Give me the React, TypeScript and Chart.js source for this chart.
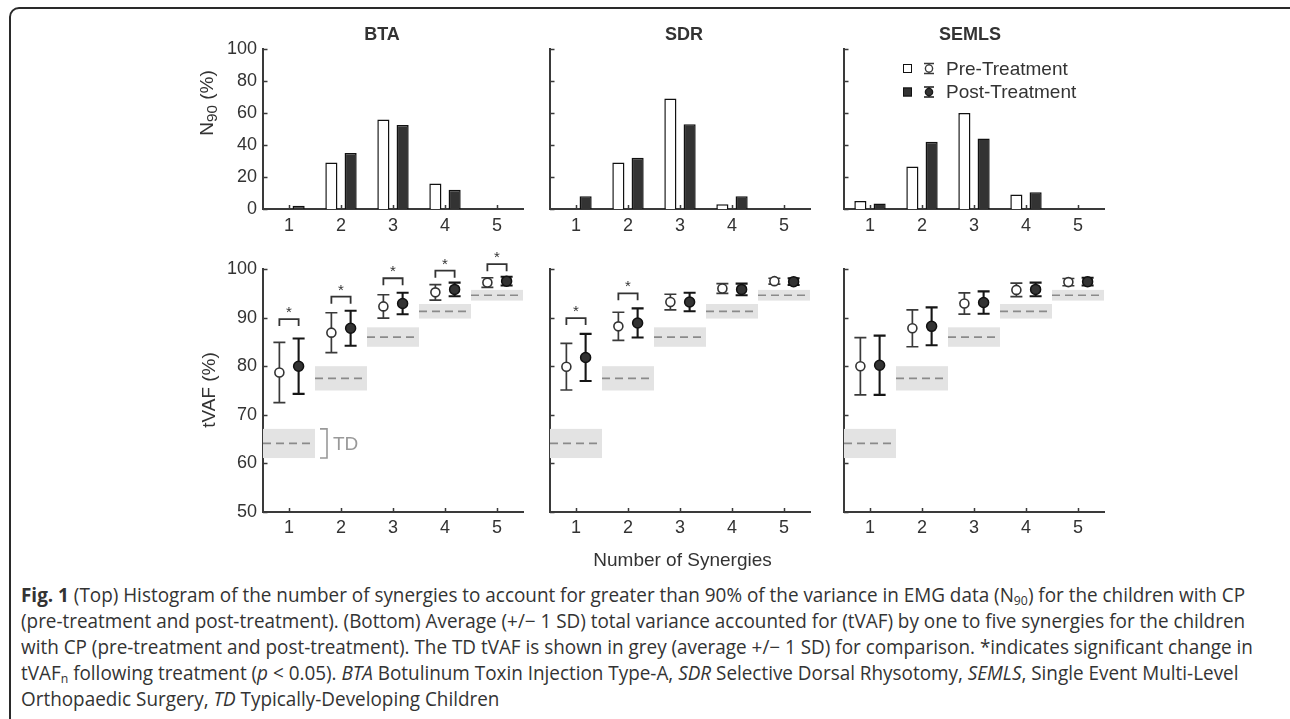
import React, { useEffect, useLayoutEffect, useRef, useState } from 'react';
import { Chart, registerables } from 'chart.js';

Chart.register(...registerables);

// ---------------- DATA ----------------
const categories = ['1', '2', '3', '4', '5'];
const xTicks = [1, 2, 3, 4, 5];
const topYTicks = [0, 20, 40, 60, 80, 100];
const bottomYTicks = [50, 60, 70, 80, 90, 100];
const panelNames = ['BTA', 'SDR', 'SEMLS'];
const legendLabels = ['Pre-Treatment', 'Post-Treatment'];

// N90 (%) histograms
const btaN90Pre = [0, 29, 56, 16, 0];
const btaN90Post = [2, 35, 52.5, 12, 0];
const sdrN90Pre = [0, 29, 69, 3, 0];
const sdrN90Post = [8, 32, 53, 8, 0];
const semlsN90Pre = [5, 26.5, 60, 9, 0];
const semlsN90Post = [3.5, 42, 44, 10.5, 0];

// tVAF (%) mean and SD
const btaPreMean = [78.7, 86.9, 92.3, 95.2, 97.2];
const btaPreSd = [6.2, 4.1, 2.4, 1.6, 1.0];
const btaPostMean = [80.0, 87.8, 92.9, 95.8, 97.5];
const btaPostSd = [5.7, 3.6, 2.2, 1.4, 0.9];

const sdrPreMean = [79.9, 88.2, 93.2, 96.0, 97.5];
const sdrPreSd = [4.8, 2.9, 1.6, 1.0, 0.6];
const sdrPostMean = [81.8, 88.9, 93.2, 95.8, 97.4];
const sdrPostSd = [4.85, 3.0, 1.9, 1.2, 0.7];

const semlsPreMean = [80.0, 87.8, 92.9, 95.7, 97.3];
const semlsPreSd = [5.9, 3.8, 2.2, 1.4, 0.75];
const semlsPostMean = [80.2, 88.2, 93.1, 95.8, 97.4];
const semlsPostSd = [6.1, 3.9, 2.3, 1.4, 0.8];

// Typically developing reference (mean +/- 1 SD)
const tdMean = [64.1, 77.5, 86.0, 91.3, 94.6];
const tdSd = [3.0, 2.5, 2.0, 1.5, 1.1];

// significance bracket levels (tVAF %), null = no significant change
const btaSig = [89.7, 94.3, 98.1, 99.65, 101.0];
const sdrSig = [89.9, 95.0, null, null, null];
const semlsSig = [null, null, null, null, null];

// ---------------- STYLE / LAYOUT ----------------
const FONT = '"Liberation Sans", Arial, sans-serif';
const CAP_FONT = '"Open Sans", "Noto Sans", sans-serif';
const TXT = '#333333';
const AXIS = '#3a3a3a';
const PRE_OFF = -0.185;
const POST_OFF = 0.185;
const CAP = 6;

const PANEL_X = [263, 550, 844];
const PLOT_W = 260;
const TOP_Y = 49;
const TOP_H = 160;
const BOT_Y = 269;
const BOT_H = 243;
const PAD_L = 80;
const PAD_R = 20;
const YW = 60;
const XH = 30;

const topPanels = [
  { pre: btaN90Pre, post: btaN90Post },
  { pre: sdrN90Pre, post: sdrN90Post },
  { pre: semlsN90Pre, post: semlsN90Post },
];
const bottomPanels = [
  { preMean: btaPreMean, preSd: btaPreSd, postMean: btaPostMean, postSd: btaPostSd, sig: btaSig },
  { preMean: sdrPreMean, preSd: sdrPreSd, postMean: sdrPostMean, postSd: sdrPostSd, sig: sdrSig },
  { preMean: semlsPreMean, preSd: semlsPreSd, postMean: semlsPostMean, postSd: semlsPostSd, sig: semlsSig },
];

const inwardTicks = {
  id: 'inwardTicks',
  afterDatasetsDraw(chart: any) {
    const { ctx, chartArea, scales } = chart;
    const xs = scales.x;
    const ys = scales.y;
    ctx.save();
    ctx.strokeStyle = AXIS;
    ctx.lineWidth = 1.5;
    ctx.beginPath();
    xs.ticks.forEach((_t: any, i: number) => {
      const px = Math.round(xs.getPixelForTick(i)) + 0.5;
      ctx.moveTo(px, chartArea.bottom);
      ctx.lineTo(px, chartArea.bottom - 4);
    });
    ys.ticks.forEach((_t: any, i: number) => {
      const py = Math.round(ys.getPixelForTick(i)) + 0.5;
      ctx.moveTo(chartArea.left, py);
      ctx.lineTo(chartArea.left + 4.5, py);
    });
    ctx.stroke();
    ctx.restore();
  },
};

function yScale(min: number, max: number, ticks: number[], showLabels: boolean) {
  return {
    min,
    max,
    afterBuildTicks: (s: any) => {
      s.ticks = ticks.map((v) => ({ value: v }));
    },
    ticks: { display: showLabels, padding: 6, color: TXT, font: { family: FONT, size: 18 } },
    grid: { display: false, drawTicks: false },
    border: { display: true, color: AXIS, width: 2 },
    afterFit: (s: any) => {
      s.width = YW;
    },
  };
}

function topConfig(idx: number) {
  const p = topPanels[idx];
  const plugins: any[] = [inwardTicks];
  if (idx === 2) {
    plugins.push({
      id: 'legendBox',
      afterDraw(chart: any) {
        const { ctx, chartArea } = chart;
        const sqX = chartArea.left + 59;
        const cx = chartArea.left + 85;
        const tx = chartArea.left + 102;
        const rows = [chartArea.top + 19.5, chartArea.top + 43];
        ctx.save();
        rows.forEach((cy, r) => {
          ctx.lineWidth = 1;
          ctx.strokeStyle = '#111';
          ctx.fillStyle = r === 0 ? '#ffffff' : '#333333';
          ctx.fillRect(sqX, cy - 4.5, 9, 9);
          ctx.strokeRect(sqX + 0.5, cy - 4, 8, 8);
          ctx.lineWidth = 1.4;
          ctx.strokeStyle = r === 0 ? '#3a3a3a' : '#1a1a1a';
          ctx.beginPath();
          ctx.moveTo(cx, cy - 5);
          ctx.lineTo(cx, cy + 5);
          ctx.moveTo(cx - 5, cy - 5);
          ctx.lineTo(cx + 5, cy - 5);
          ctx.moveTo(cx - 5, cy + 5);
          ctx.lineTo(cx + 5, cy + 5);
          ctx.stroke();
          ctx.beginPath();
          ctx.arc(cx, cy, 3.6, 0, Math.PI * 2);
          ctx.fillStyle = r === 0 ? '#ffffff' : '#333333';
          ctx.fill();
          ctx.stroke();
          ctx.fillStyle = TXT;
          ctx.font = `19px ${FONT}`;
          ctx.textAlign = 'left';
          ctx.textBaseline = 'middle';
          ctx.fillText(legendLabels[r], tx, cy + 1);
        });
        ctx.restore();
      },
    });
  }
  return {
    type: 'bar',
    data: {
      labels: categories,
      datasets: [
        {
          label: legendLabels[0],
          data: p.pre,
          backgroundColor: '#ffffff',
          borderColor: '#111111',
          borderWidth: 1.5,
          categoryPercentage: 0.74,
          barPercentage: 0.63,
        },
        {
          label: legendLabels[1],
          data: p.post,
          backgroundColor: '#333333',
          borderColor: '#111111',
          borderWidth: 1.5,
          categoryPercentage: 0.74,
          barPercentage: 0.63,
        },
      ],
    },
    options: {
      responsive: false,
      animation: false,
      devicePixelRatio: 1,
      events: [],
      layout: { padding: { left: PAD_L - YW, right: PAD_R, top: TOP_Y, bottom: 50 - XH } },
      plugins: { legend: { display: false }, tooltip: { enabled: false }, title: { display: false } },
      scales: {
        x: {
          type: 'category',
          offset: true,
          ticks: { padding: 6, color: TXT, font: { family: FONT, size: 18 } },
          grid: { display: false, drawTicks: false },
          border: { display: true, color: AXIS, width: 2 },
          afterFit: (s: any) => {
            s.height = XH;
          },
        },
        y: yScale(0, 100, topYTicks, idx === 0),
      },
    },
    plugins,
  };
}

function bottomConfig(idx: number) {
  const p = bottomPanels[idx];
  const tdLine = tdMean.flatMap((m, i) => [
    { x: xTicks[i] - 0.5, y: m },
    { x: xTicks[i] + 0.5, y: m },
    { x: xTicks[i] + 0.5, y: null },
  ]);
  const plugins: any[] = [
    {
      id: 'bandsAndErrors',
      beforeDatasetsDraw(chart: any) {
        const { ctx, scales } = chart;
        const xs = scales.x;
        const ys = scales.y;
        ctx.save();
        ctx.fillStyle = '#e3e3e3';
        tdMean.forEach((m, i) => {
          const x0 = xs.getPixelForValue(xTicks[i] - 0.5);
          const x1 = xs.getPixelForValue(xTicks[i] + 0.5);
          const y0 = ys.getPixelForValue(m + tdSd[i]);
          const y1 = ys.getPixelForValue(m - tdSd[i]);
          ctx.fillRect(x0, y0, x1 - x0, y1 - y0);
        });
        const bars = [
          { means: p.preMean, sds: p.preSd, off: PRE_OFF, color: '#3a3a3a', w: 1.7 },
          { means: p.postMean, sds: p.postSd, off: POST_OFF, color: '#151515', w: 2.1 },
        ];
        bars.forEach((b) => {
          ctx.strokeStyle = b.color;
          ctx.lineWidth = b.w;
          b.means.forEach((m, i) => {
            const px = xs.getPixelForValue(xTicks[i] + b.off);
            const yt = ys.getPixelForValue(m + b.sds[i]);
            const yb = ys.getPixelForValue(m - b.sds[i]);
            ctx.beginPath();
            ctx.moveTo(px, yt);
            ctx.lineTo(px, yb);
            ctx.moveTo(px - CAP, yt);
            ctx.lineTo(px + CAP, yt);
            ctx.moveTo(px - CAP, yb);
            ctx.lineTo(px + CAP, yb);
            ctx.stroke();
          });
        });
        ctx.restore();
      },
      afterDatasetsDraw(chart: any) {
        const { ctx, scales } = chart;
        const xs = scales.x;
        const ys = scales.y;
        ctx.save();
        ctx.strokeStyle = '#333333';
        ctx.fillStyle = '#333333';
        ctx.lineWidth = 1.8;
        ctx.font = `15px ${FONT}`;
        ctx.textAlign = 'center';
        ctx.textBaseline = 'middle';
        p.sig.forEach((lvl, i) => {
          if (lvl === null) return;
          const x0 = xs.getPixelForValue(xTicks[i] + PRE_OFF);
          const x1 = xs.getPixelForValue(xTicks[i] + POST_OFF);
          const py = ys.getPixelForValue(lvl);
          ctx.beginPath();
          ctx.moveTo(x0, py + 7);
          ctx.lineTo(x0, py);
          ctx.lineTo(x1, py);
          ctx.lineTo(x1, py + 7);
          ctx.stroke();
          ctx.fillText('*', (x0 + x1) / 2, py - 6);
        });
        if (idx === 0) {
          const bx0 = xs.getPixelForValue(xTicks[0] + 0.5) + 5;
          const bx1 = bx0 + 7;
          const yt = ys.getPixelForValue(tdMean[0] + tdSd[0]);
          const yb = ys.getPixelForValue(tdMean[0] - tdSd[0]);
          ctx.strokeStyle = '#999999';
          ctx.lineWidth = 1.6;
          ctx.beginPath();
          ctx.moveTo(bx0, yt);
          ctx.lineTo(bx1, yt);
          ctx.lineTo(bx1, yb);
          ctx.lineTo(bx0, yb);
          ctx.stroke();
          ctx.fillStyle = '#999999';
          ctx.font = `19px ${FONT}`;
          ctx.textAlign = 'left';
          ctx.fillText('TD', bx1 + 6, ys.getPixelForValue(tdMean[0]) + 1);
        }
        ctx.restore();
      },
    },
    inwardTicks,
  ];
  return {
    type: 'scatter',
    data: {
      datasets: [
        {
          label: legendLabels[1],
          data: p.postMean.map((m, i) => ({ x: xTicks[i] + POST_OFF, y: m })),
          pointRadius: 5,
          pointBackgroundColor: '#333333',
          pointBorderColor: '#111111',
          pointBorderWidth: 1.5,
        },
        {
          label: legendLabels[0],
          data: p.preMean.map((m, i) => ({ x: xTicks[i] + PRE_OFF, y: m })),
          pointRadius: 4.5,
          pointBackgroundColor: '#ffffff',
          pointBorderColor: '#333333',
          pointBorderWidth: 1.6,
        },
        {
          label: 'TD',
          data: tdLine,
          showLine: true,
          spanGaps: false,
          pointRadius: 0,
          borderColor: '#8a8a8a',
          borderWidth: 1.7,
          borderDash: [8, 5],
        },
      ],
    },
    options: {
      responsive: false,
      animation: false,
      devicePixelRatio: 1,
      events: [],
      layout: { padding: { left: PAD_L - YW, right: PAD_R, top: 40, bottom: 40 - XH } },
      plugins: { legend: { display: false }, tooltip: { enabled: false }, title: { display: false } },
      scales: {
        x: {
          type: 'linear',
          min: 0.5,
          max: 5.5,
          afterBuildTicks: (s: any) => {
            s.ticks = xTicks.map((v) => ({ value: v }));
          },
          ticks: { padding: 5, color: TXT, font: { family: FONT, size: 18 } },
          grid: { display: false, drawTicks: false },
          border: { display: true, color: AXIS, width: 2 },
          afterFit: (s: any) => {
            s.height = XH;
          },
        },
        y: yScale(50, 100, bottomYTicks, idx === 0),
      },
    },
    plugins,
  };
}

function ChartBox({ left, top, width, height, make }: any) {
  const ref = useRef<HTMLCanvasElement>(null);
  useEffect(() => {
    const chart = new Chart(ref.current as HTMLCanvasElement, make() as any);
    return () => chart.destroy();
  }, []);
  return (
    <canvas
      ref={ref}
      width={width}
      height={height}
      style={{ position: 'absolute', left, top, width, height }}
    />
  );
}

function Label({ x, y, size, children, bold = false, rotate = 0, color = TXT }: any) {
  return (
    <div
      style={{
        position: 'absolute',
        left: x,
        top: y,
        transform: `translate(-50%, -50%) rotate(${rotate}deg)`,
        fontFamily: FONT,
        fontSize: size,
        fontWeight: bold ? 700 : 400,
        color,
        whiteSpace: 'nowrap',
        lineHeight: 1,
      }}
    >
      {children}
    </div>
  );
}

const CAPTION_W = 1224;

function Caption() {
  const ref = useRef<HTMLSpanElement>(null);
  const [scale, setScale] = useState(1);
  useLayoutEffect(() => {
    if (ref.current) {
      const w = ref.current.getBoundingClientRect().width;
      if (w > 0) setScale(CAPTION_W / w);
    }
  }, []);
  const lines = [
    <span ref={ref}>
      <b>Fig. 1</b> (Top) Histogram of the number of synergies to account for greater than 90% of the variance in EMG data (N
      <sub style={{ fontSize: '0.65em', verticalAlign: '-0.2em' }}>90</sub>) for the children with CP
    </span>,
    <span>
      (pre-treatment and post-treatment). (Bottom) Average (+/− 1 SD) total variance accounted for (tVAF) by one to five synergies for the children
    </span>,
    <span>
      with CP (pre-treatment and post-treatment). The TD tVAF is shown in grey (average +/− 1 SD) for comparison. *indicates significant change in
    </span>,
    <span>
      tVAF<sub style={{ fontSize: '0.65em', verticalAlign: '-0.2em' }}>n</sub> following treatment (<i>p</i> &lt; 0.05).{' '}
      <i>BTA</i> Botulinum Toxin Injection Type-A, <i>SDR</i> Selective Dorsal Rhysotomy, <i>SEMLS</i>, Single Event Multi-Level
    </span>,
    <span>
      Orthopaedic Surgery, <i>TD</i> Typically-Developing Children
    </span>,
  ];
  return (
    <>
      {lines.map((l, i) => (
        <div
          key={i}
          style={{
            position: 'absolute',
            left: 21,
            top: 582 + i * 26,
            height: 26,
            lineHeight: '26px',
            fontFamily: CAP_FONT,
            fontSize: 19.5,
            color: TXT,
            whiteSpace: 'nowrap',
            transform: `scaleX(${scale})`,
            transformOrigin: 'left center',
          }}
        >
          {l}
        </div>
      ))}
    </>
  );
}

export default function App() {
  const canvasW = PAD_L + PLOT_W + PAD_R;
  return (
    <div
      style={{
        position: 'fixed',
        left: 0,
        top: 0,
        width: 1290,
        height: 719,
        background: '#ffffff',
        overflow: 'hidden',
      }}
    >
      <div
        style={{
          position: 'absolute',
          left: 9,
          top: 7,
          width: 1290,
          height: 722,
          border: '2px solid #2a2a2a',
          borderRadius: 10,
          boxSizing: 'border-box',
        }}
      />
      {PANEL_X.map((px, i) => (
        <ChartBox
          key={'t' + i}
          left={px - PAD_L}
          top={0}
          width={canvasW}
          height={TOP_Y + TOP_H + 50}
          make={() => topConfig(i)}
        />
      ))}
      {PANEL_X.map((px, i) => (
        <ChartBox
          key={'b' + i}
          left={px - PAD_L}
          top={BOT_Y - 40}
          width={canvasW}
          height={40 + BOT_H + 40}
          make={() => bottomConfig(i)}
        />
      ))}
      <Label x={382} y={33.5} size={18} bold>
        {panelNames[0]}
      </Label>
      <Label x={684} y={33.5} size={18} bold>
        {panelNames[1]}
      </Label>
      <Label x={970} y={33.5} size={18} bold>
        {panelNames[2]}
      </Label>
      <Label x={208} y={103} size={19} rotate={-90}>
        N<sub style={{ fontSize: '0.8em', verticalAlign: '-0.3em' }}>90</sub> (%)
      </Label>
      <Label x={208} y={390} size={19} rotate={-90}>
        tVAF (%)
      </Label>
      <Label x={682.5} y={558.5} size={19}>
        Number of Synergies
      </Label>
      <Caption />
    </div>
  );
}
